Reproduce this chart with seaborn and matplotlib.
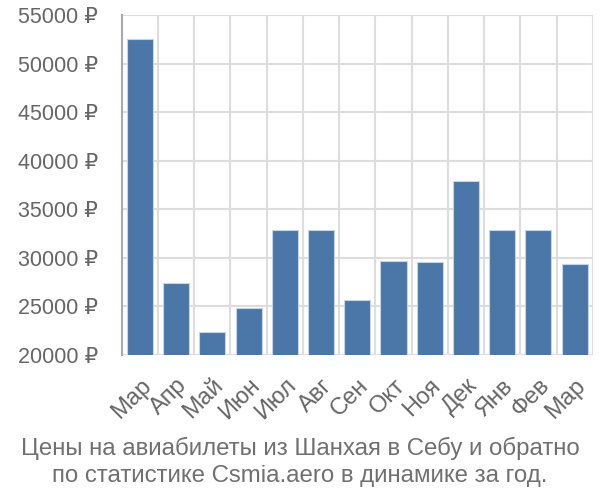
import matplotlib
matplotlib.use("Agg")
import matplotlib.pyplot as plt
import numpy as np
import pandas as pd
import seaborn as sns
from matplotlib.ticker import FuncFormatter, FixedLocator

months = ["Мар", "Апр", "Май", "Июн", "Июл", "Авг", "Сен", "Окт", "Ноя", "Дек", "Янв", "Фев", "Мар"]
prices = [52500, 27400, 22400, 24870, 32900, 32900, 25630, 29710, 29600, 37910, 32900, 32900, 29330]
yticks = [20000, 25000, 30000, 35000, 40000, 45000, 50000, 55000]
title = "Цены на авиабилеты из Шанхая в Себу и обратно\nпо статистике Csmia.aero в динамике за год."

BAR_COLOR = "#4a76a8"
TEXT_COLOR = "#666666"
GRID_COLOR = "#dddddd"

sns.set_theme(style="white")
plt.rcParams["font.family"] = ["Liberation Sans", "DejaVu Sans"]

df = pd.DataFrame({"pos": range(len(months)), "price": prices})

fig = plt.figure(figsize=(6, 5), dpi=100)
ax = fig.add_axes([0.203, 0.29, 0.785, 0.68])

sns.barplot(data=df, x="pos", y="price", ax=ax, color=BAR_COLOR, saturation=1,
            width=0.72, edgecolor="#c8d4e4", linewidth=0.8, zorder=3)

ax.set_ylim(20000, 55000)
ax.set_xlim(-0.5, len(months) - 0.5)
ax.set_yticks(yticks)
ax.yaxis.set_major_formatter(FuncFormatter(lambda v, p: f"{int(v)} ₽"))
ax.set_xticks(range(len(months)))
ax.set_xticklabels(months, rotation=45, ha="right", rotation_mode="anchor")
ax.xaxis.set_minor_locator(FixedLocator(np.arange(-0.5, len(months), 1.0)))

ax.grid(axis="y", which="major", color=GRID_COLOR, linewidth=1.5, zorder=0)
ax.grid(axis="x", which="minor", color=GRID_COLOR, linewidth=1.5, zorder=0)
ax.set_axisbelow(True)

ax.tick_params(axis="x", which="major", length=0, pad=14, labelsize=17, labelcolor=TEXT_COLOR)
ax.tick_params(axis="x", which="minor", length=13, width=1.5, color=GRID_COLOR)
ax.tick_params(axis="y", length=15, width=1.5, color=GRID_COLOR, pad=2,
               labelsize=15.5, labelcolor=TEXT_COLOR)

for side in ["top", "right", "bottom"]:
    ax.spines[side].set_visible(False)
ax.spines["left"].set_color("#aaaaaa")
ax.spines["left"].set_linewidth(1.5)
ax.spines["left"].set_bounds(20000, 55000)

ax.set_xlabel("")
ax.set_ylabel("")

fig.text(0.5, 0.076, title, ha="center", va="center", fontsize=17.3,
         color="#707070", linespacing=1.25)

fig.savefig("out.png", dpi=100)
